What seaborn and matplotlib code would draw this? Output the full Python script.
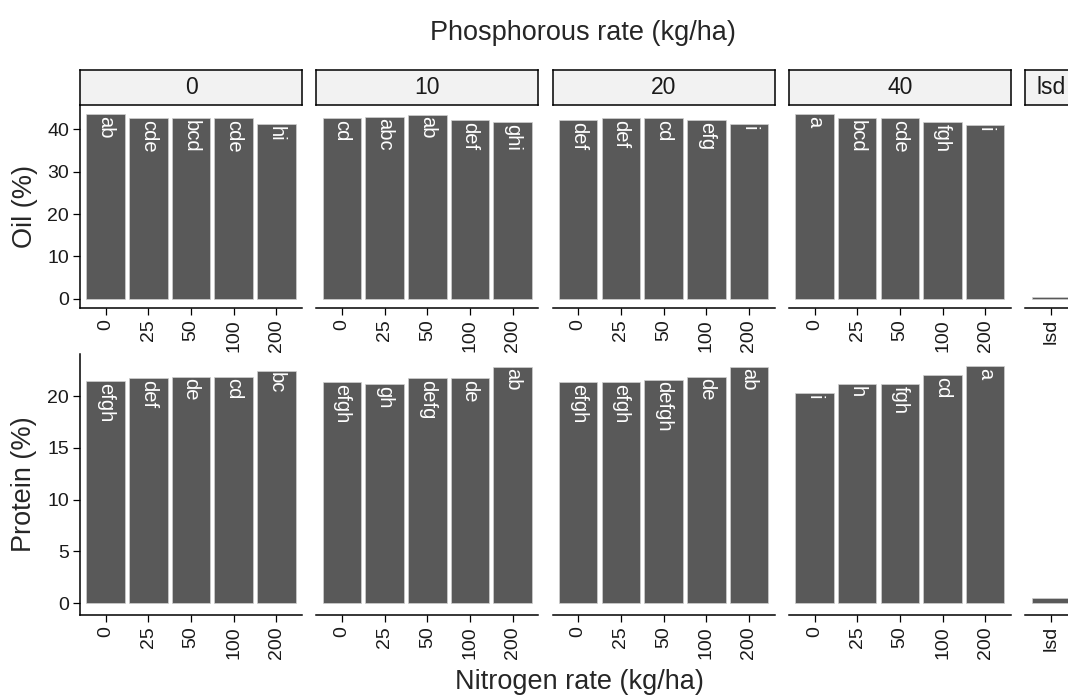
import numpy as np
import pandas as pd
import matplotlib
matplotlib.use('Agg')
import matplotlib.pyplot as plt
import seaborn as sns

# data
nitrogen = ['0', '25', '50', '100', '200']
phosphorus = ['0', '10', '20', '40']

oil_p0 = [43.6, 42.6, 42.6, 42.6, 41.25]
oil_p10 = [42.6, 43.05, 43.5, 42.2, 41.7]
oil_p20 = [42.2, 42.65, 42.65, 42.2, 41.25]
oil_p40 = [43.6, 42.65, 42.65, 41.7, 41.0]
oil_lsd = 0.35

protein_p0 = [21.42, 21.74, 21.87, 21.9, 22.45]
protein_p10 = [21.38, 21.19, 21.77, 21.77, 22.84]
protein_p20 = [21.38, 21.38, 21.58, 21.87, 22.84]
protein_p40 = [20.32, 21.19, 21.19, 22.06, 22.93]
protein_lsd = 0.5

oil_let_p0 = ['ab', 'cde', 'bcd', 'cde', 'hi']
oil_let_p10 = ['cd', 'abc', 'ab', 'def', 'ghi']
oil_let_p20 = ['def', 'def', 'cd', 'efg', 'i']
oil_let_p40 = ['a', 'bcd', 'cde', 'fgh', 'i']

protein_let_p0 = ['efgh', 'def', 'de', 'cd', 'bc']
protein_let_p10 = ['efgh', 'gh', 'defg', 'de', 'ab']
protein_let_p20 = ['efgh', 'efgh', 'defgh', 'de', 'ab']
protein_let_p40 = ['i', 'h', 'fgh', 'cd', 'a']

oil_vals = [oil_p0, oil_p10, oil_p20, oil_p40]
protein_vals = [protein_p0, protein_p10, protein_p20, protein_p40]
oil_lets = [oil_let_p0, oil_let_p10, oil_let_p20, oil_let_p40]
protein_lets = [protein_let_p0, protein_let_p10, protein_let_p20, protein_let_p40]

recs = []
for trait, vals, lets in [('Oil', oil_vals, oil_lets), ('Protein', protein_vals, protein_lets)]:
    for p, v, l in zip(phosphorus, vals, lets):
        for n, vv, ll in zip(nitrogen, v, l):
            recs.append({'trait': trait, 'P': p, 'N': n, 'value': vv, 'letter': ll})
recs.append({'trait': 'Oil', 'P': 'lsd', 'N': 'lsd', 'value': oil_lsd, 'letter': ''})
recs.append({'trait': 'Protein', 'P': 'lsd', 'N': 'lsd', 'value': protein_lsd, 'letter': ''})
df = pd.DataFrame(recs)

sns.set_style('ticks')
plt.rcParams['font.family'] = ['Liberation Sans', 'DejaVu Sans']

W, H = 1068, 695
fig = plt.figure(figsize=(W / 100, H / 100), dpi=100)

def rect(l, t, r, b):
    return [l / W, 1 - b / H, (r - l) / W, (b - t) / H]

# panel layout in pixels
pw = 222.0
gap = 14.3
lefts = [80 + i * (pw + gap) for i in range(5)]
widths = [pw] * 4 + [pw * 1.2 / 5.2]
rows = {'Oil': (105, 308), 'Protein': (354, 615)}
yticks = {'Oil': [0, 10, 20, 30, 40], 'Protein': [0, 5, 10, 15, 20]}
facets = phosphorus + ['lsd']

bar_col = '#595959'
tick_fs = 14
tick_col = '#1a1a1a'

for trait, (top, bot) in rows.items():
    sub_t = df[df.trait == trait]
    ymax = sub_t.value.max()
    for j, p in enumerate(facets):
        ax = fig.add_axes(rect(lefts[j], top, lefts[j] + widths[j], bot))
        sub = sub_t[sub_t.P == p]
        order = list(sub.N)
        sns.barplot(data=sub, x='N', y='value', order=order, color=bar_col,
                    saturation=1, width=0.9, edgecolor='#d0d0d0', linewidth=0.5,
                    errorbar=None, ax=ax)
        n = len(order)
        ax.set_xlim(-0.6, n - 0.4)
        ax.set_ylim(-0.05 * ymax, 1.05 * ymax)
        ax.set_xlabel('')
        ax.set_ylabel('')
        ax.set_facecolor('white')
        for s in ['top', 'right']:
            ax.spines[s].set_visible(False)
        ax.spines['bottom'].set_linewidth(1.1)
        ax.spines['bottom'].set_color('black')
        ax.tick_params(axis='x', labelrotation=90, labelsize=tick_fs, length=5,
                       width=0.9, pad=3, color='black', labelcolor=tick_col)
        if j == 0:
            ax.spines['left'].set_linewidth(1.1)
            ax.spines['left'].set_color('black')
            ax.set_yticks(yticks[trait])
            ax.tick_params(axis='y', labelsize=tick_fs, length=5, width=0.9,
                           pad=3, color='black', labelcolor=tick_col)
        else:
            ax.spines['left'].set_visible(False)
            ax.tick_params(axis='y', left=False, labelleft=False)
        for i, (v, lab) in enumerate(zip(sub.value, sub.letter)):
            if lab:
                ax.annotate(lab, xy=(i, v), xytext=(0, -1.2), textcoords='offset points',
                            rotation=270, ha='center', va='top', color='white',
                            fontsize=14.5)

        if trait == 'Oil':
            sax = fig.add_axes(rect(lefts[j], 69.5, lefts[j] + widths[j], 105))
            sax.set_facecolor('#F2F2F2')
            sax.set_xticks([])
            sax.set_yticks([])
            for s in sax.spines.values():
                s.set_visible(True)
                s.set_linewidth(1.1)
                s.set_color('black')
            sax.text(0.5, 0.5, p, transform=sax.transAxes, ha='center', va='center',
                     fontsize=16.5, color='#1a1a1a')

fig.text(583 / W, 1 - 33 / H, 'Phosphorous rate (kg/ha)', ha='center', va='center', fontsize=19.5)
fig.text(579 / W, 1 - 682 / H, 'Nitrogen rate (kg/ha)', ha='center', va='center', fontsize=19.5)
fig.text(25 / W, 1 - 206.5 / H, 'Oil (%)', rotation=90, ha='center', va='center', fontsize=19.5)
fig.text(24 / W, 1 - 484.5 / H, 'Protein (%)', rotation=90, ha='center', va='center', fontsize=19.5)

fig.savefig('out.png', dpi=100)
